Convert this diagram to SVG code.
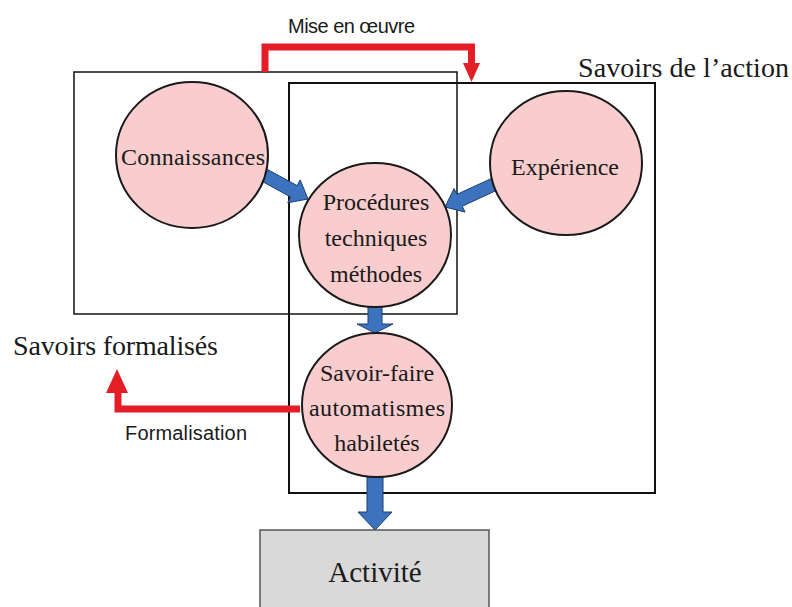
<svg xmlns="http://www.w3.org/2000/svg" width="792" height="607" viewBox="0 0 792 607">
<style>
.bg{fill:#ffffff}
.frame{fill:none;stroke:#111;stroke-width:1.5}
.frame2{fill:none;stroke:#111;stroke-width:2}
.node{fill:#f9cdcd;stroke:#1a1a1a;stroke-width:2}
.serif{font-family:"Liberation Serif","Times New Roman",serif;fill:#1a1a1a}
.ntext{font-size:24px;text-anchor:middle}
.sans{font-family:"Liberation Sans",Arial,sans-serif;fill:#1a1a1a}
.blue{fill:#3b73bf;stroke:#1f3f6e;stroke-width:1}
.red{fill:none;stroke:#e31e26;stroke-width:7;stroke-linejoin:miter}
.redhead{fill:#e31e26}
.act{fill:#d9d9d9;stroke:#555;stroke-width:1.5}
</style>
<rect class="bg" x="0" y="0" width="792" height="607"/>
<g id="frames">
<rect class="frame" x="74" y="72" width="383" height="242"/>
<rect class="frame2" x="289" y="83" width="366" height="410"/>
</g>
<g id="connectors">
<polygon class="blue" points="260.9,180.7 267.1,169.3 297.1,185.6 300.2,179.9 308,199 287.7,202.8 290.8,197.1"/>
<polygon class="blue" points="496.8,176 456.8,194.4 454.1,188.5 445,207 465,212.1 462.3,206.2 502.2,187.8"/>
<polygon class="blue" points="368,295 382,295 382,324 393,324 375,333 357,324 368,324"/>
<polygon class="blue" points="367,470 383,470 383,512 392,512 375,530 358,512 367,512"/>
<polyline class="red" points="300,409 118,409 118,392"/>
<polygon class="redhead" points="106,393 117,369 128,393"/>
<polyline class="red" points="265,72 265,47 471.5,47 471.5,64"/>
<polygon class="redhead" points="463,63 480,63 471.5,82"/>
</g>
<g id="connaissances">
<ellipse class="node" cx="192" cy="155" rx="76" ry="73"/>
<text class="serif ntext" x="193" y="165" textLength="144">Connaissances</text>
</g>
<g id="procedures">
<ellipse class="node" cx="375" cy="235" rx="76" ry="72"/>
<text class="serif ntext" x="376" y="210">Procédures</text>
<text class="serif ntext" x="376" y="246">techniques</text>
<text class="serif ntext" x="376" y="282">méthodes</text>
</g>
<g id="experience">
<ellipse class="node" cx="566" cy="163" rx="76" ry="72"/>
<text class="serif ntext" x="565" y="175">Expérience</text>
</g>
<g id="savoirfaire">
<ellipse class="node" cx="377" cy="405" rx="75" ry="72"/>
<text class="serif ntext" x="377" y="381">Savoir-faire</text>
<text class="serif ntext" x="377" y="416" textLength="136">automatismes</text>
<text class="serif ntext" x="377" y="451">habiletés</text>
</g>
<g id="activite">
<rect class="act" x="260" y="530" width="229" height="90"/>
<text class="serif" x="375" y="582" font-size="29" text-anchor="middle">Activité</text>
</g>
<g id="labels">
<text class="serif" x="578" y="77" font-size="28" textLength="211">Savoirs de l’action</text>
<text class="serif" x="13" y="355" font-size="28" textLength="205">Savoirs formalisés</text>
<text class="sans" x="288" y="33" font-size="20" textLength="127">Mise en œuvre</text>
<text class="sans" x="125" y="440" font-size="20" textLength="122">Formalisation</text>
</g>
</svg>
